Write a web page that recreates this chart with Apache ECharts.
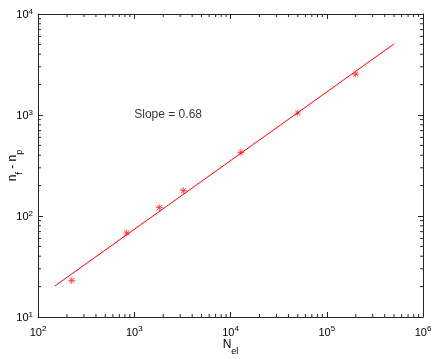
<!DOCTYPE html>
<html>
<head>
<meta charset="utf-8">
<script src="https://cdn.jsdelivr.net/npm/echarts@6/dist/echarts.min.js"></script>
<style>
  html, body { margin: 0; padding: 0; background: #fff; }
  #chart { width: 436px; height: 359px; }
</style>
</head>
<body>
<div id="chart"></div>
<script>
// measured points (N_el, n_f - n_p)
const nEl = [224, 835, 1820, 3240, 12800, 50000, 200000];
const nDiff = [23, 68, 121, 178, 427, 1047, 2545];
// fitted line, slope 0.68
const fitX = [150, 500000];
const fitY = [20.3, 5050];
const slopeText = 'Slope = 0.68';
const textPos = [1000, 1000];

const xMin = 100, xMax = 1000000;
const yMin = 10, yMax = 10000;

// minor tick values 2..9 x 10^k
function minorTicks(lo, hi) {
    const out = [];
    for (let d = lo; d < hi; d *= 10) {
        for (let m = 2; m <= 9; m++) out.push(d * m);
    }
    return out;
}
const xMinor = minorTicks(xMin, xMax);
const yMinor = minorTicks(yMin, yMax);

const FONT = 'Liberation Sans, Arial, Helvetica, sans-serif';
const AXIS_COLOR = '#262626';

const asterisk = 'path://M0,4.5H10V5.5H0Z M4.5,0H5.5V10H4.5Z M1,1.7L1.7,1L9,8.3L8.3,9Z M1.7,9L1,8.3L8.3,1L9,1.7Z';

const tickRich = {
    b: { fontSize: 11, fontFamily: FONT, color: '#000', lineHeight: 13, verticalAlign: 'bottom' },
    e: { fontSize: 8, fontFamily: FONT, color: '#000', lineHeight: 8, verticalAlign: 'top' }
};
function powLabel(v) {
    return '{b|10}{e|' + Math.round(Math.log10(v)) + '}';
}

const nameRich = {
    m: { fontSize: 12, fontFamily: FONT, color: '#000', lineHeight: 12, verticalAlign: 'top' },
    s: { fontSize: 9, fontFamily: FONT, color: '#000', lineHeight: 8, padding: [8, 0, 0, 0], verticalAlign: 'top' }
};

function logAxis(min, max, pos, show, margin) {
    return {
        type: 'log',
        logBase: 10,
        min: min,
        max: max,
        position: pos,
        nameMoveOverlap: false,
        axisLine: { show: true, onZero: false, lineStyle: { color: AXIS_COLOR, width: 1 } },
        axisTick: { show: true, inside: true, length: 5, lineStyle: { color: AXIS_COLOR } },
        splitLine: { show: false },
        axisLabel: show ? { formatter: powLabel, rich: tickRich, margin: margin } : { show: false }
    };
}

const chart = echarts.init(document.getElementById('chart'));

const xBottom = logAxis(xMin, xMax, 'bottom', true, 8);
xBottom.name = '{m|N}{s|el}';
xBottom.nameLocation = 'middle';
xBottom.nameGap = 22;
xBottom.nameTextStyle = { rich: nameRich };

const yLeft = logAxis(yMin, yMax, 'left', true, 5);
yLeft.name = '{m|n}{s|f}{m| - n}{s|p}';
yLeft.nameLocation = 'middle';
yLeft.nameGap = 19;
yLeft.nameTextStyle = { rich: nameRich };

function minorSeries(values, isX) {
    return {
        type: 'custom',
        xAxisIndex: 0,
        yAxisIndex: 0,
        silent: true,
        clip: false,
        data: values.map(v => [v]),
        renderItem: function (params, api) {
            const v = api.value(0);
            const style = { stroke: AXIS_COLOR, lineWidth: 1 };
            const len = 3;
            if (isX) {
                const a = api.coord([v, yMin]);
                const b = api.coord([v, yMax]);
                return { type: 'group', children: [
                    { type: 'line', shape: { x1: a[0], y1: a[1], x2: a[0], y2: a[1] - len }, style: style },
                    { type: 'line', shape: { x1: b[0], y1: b[1], x2: b[0], y2: b[1] + len }, style: style }
                ] };
            }
            const a = api.coord([xMin, v]);
            const b = api.coord([xMax, v]);
            return { type: 'group', children: [
                { type: 'line', shape: { x1: a[0], y1: a[1], x2: a[0] + len, y2: a[1] }, style: style },
                { type: 'line', shape: { x1: b[0], y1: b[1], x2: b[0] - len, y2: b[1] }, style: style }
            ] };
        }
    };
}

const option = {
    animation: false,
    backgroundColor: '#fff',
    grid: { left: 38, right: 13, top: 14, bottom: 42, containLabel: false, outerBoundsMode: 'none' },
    xAxis: [xBottom, logAxis(xMin, xMax, 'top', false)],
    yAxis: [yLeft, logAxis(yMin, yMax, 'right', false)],
    series: [
        {
            name: 'fit',
            type: 'line',
            data: fitX.map((x, i) => [x, fitY[i]]),
            showSymbol: false,
            symbol: 'none',
            lineStyle: { color: '#ff0000', width: 1 }
        },
        {
            name: 'data',
            type: 'scatter',
            data: nEl.map((x, i) => [x, nDiff[i]]),
            symbol: asterisk,
            symbolSize: 7,
            itemStyle: { color: '#ff0000' }
        },
        {
            name: 'slope',
            type: 'scatter',
            data: [textPos],
            symbolSize: 0,
            label: {
                show: true,
                position: 'right',
                distance: 0,
                formatter: slopeText,
                fontSize: 12,
                fontFamily: FONT,
                color: '#000'
            }
        },
        minorSeries(xMinor, true),
        minorSeries(yMinor, false)
    ]
};

chart.setOption(option);
</script>
</body>
</html>
